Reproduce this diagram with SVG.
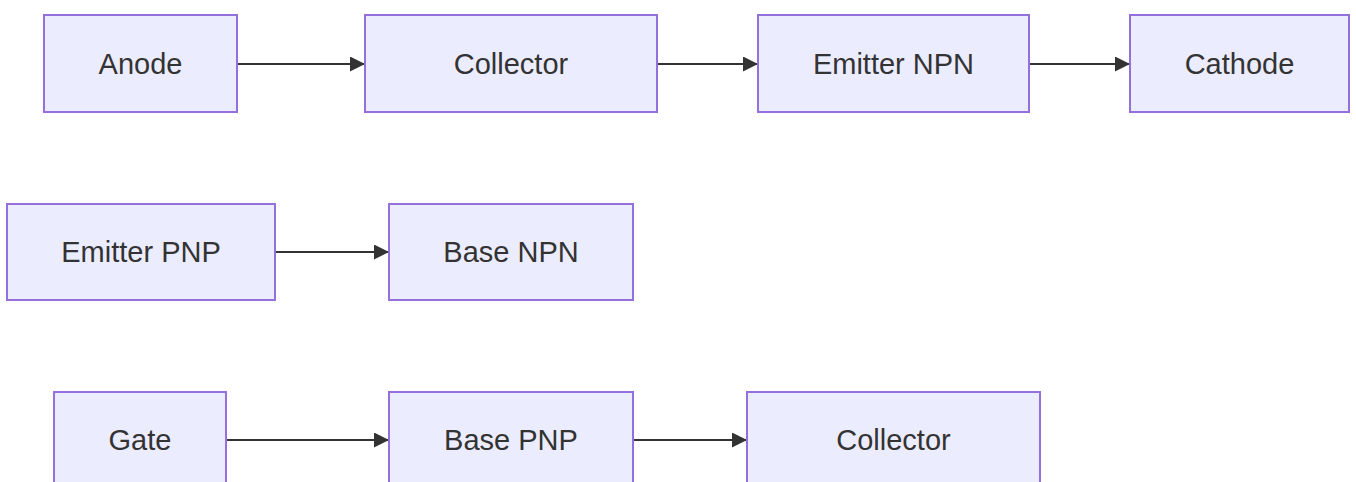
<svg xmlns="http://www.w3.org/2000/svg" width="1356" height="482" viewBox="0 0 1356 482">
  <style>
    .node rect { fill: #ECECFF; stroke: #9370DB; stroke-width: 2; }
    .node text { font-family: "Liberation Sans", Arial, sans-serif; font-size: 29px; fill: #333333; text-anchor: middle; }
    .edge { stroke: #333333; stroke-width: 2; fill: none; marker-end: url(#arrow); }
  </style>
  <defs>
    <marker id="arrow" viewBox="0 0 10 10" refX="10" refY="5" markerUnits="userSpaceOnUse" markerWidth="15" markerHeight="15" orient="auto">
      <path d="M0,0 L10,5 L0,10 z" fill="#333333"/>
    </marker>
  </defs>
  <rect width="1356" height="482" fill="#ffffff"/>

  <g id="connectors">
    <line class="edge" x1="237" y1="64" x2="365" y2="64"/>
    <line class="edge" x1="657" y1="64" x2="758" y2="64"/>
    <line class="edge" x1="1029" y1="64" x2="1130" y2="64"/>
    <line class="edge" x1="275" y1="252" x2="389" y2="252"/>
    <line class="edge" x1="226" y1="440" x2="389" y2="440"/>
    <line class="edge" x1="633" y1="440" x2="747" y2="440"/>
  </g>

  <g id="anode" class="node"><rect x="44" y="15" width="193" height="97"/><text x="140.5" y="73.5">Anode</text></g>
  <g id="collector1" class="node"><rect x="365" y="15" width="292" height="97"/><text x="511" y="73.5">Collector</text></g>
  <g id="emitter-npn" class="node"><rect x="758" y="15" width="271" height="97"/><text x="893.5" y="73.5">Emitter NPN</text></g>
  <g id="cathode" class="node"><rect x="1130" y="15" width="219" height="97"/><text x="1239.5" y="73.5">Cathode</text></g>

  <g id="emitter-pnp" class="node"><rect x="7" y="204" width="268" height="96"/><text x="141" y="261.5">Emitter PNP</text></g>
  <g id="base-npn" class="node"><rect x="389" y="204" width="244" height="96"/><text x="511" y="261.5">Base NPN</text></g>

  <g id="gate" class="node"><rect x="54" y="392" width="172" height="97"/><text x="140" y="449.5">Gate</text></g>
  <g id="base-pnp" class="node"><rect x="389" y="392" width="244" height="97"/><text x="511" y="449.5">Base PNP</text></g>
  <g id="collector2" class="node"><rect x="747" y="392" width="293" height="97"/><text x="893.5" y="449.5">Collector</text></g>
</svg>
